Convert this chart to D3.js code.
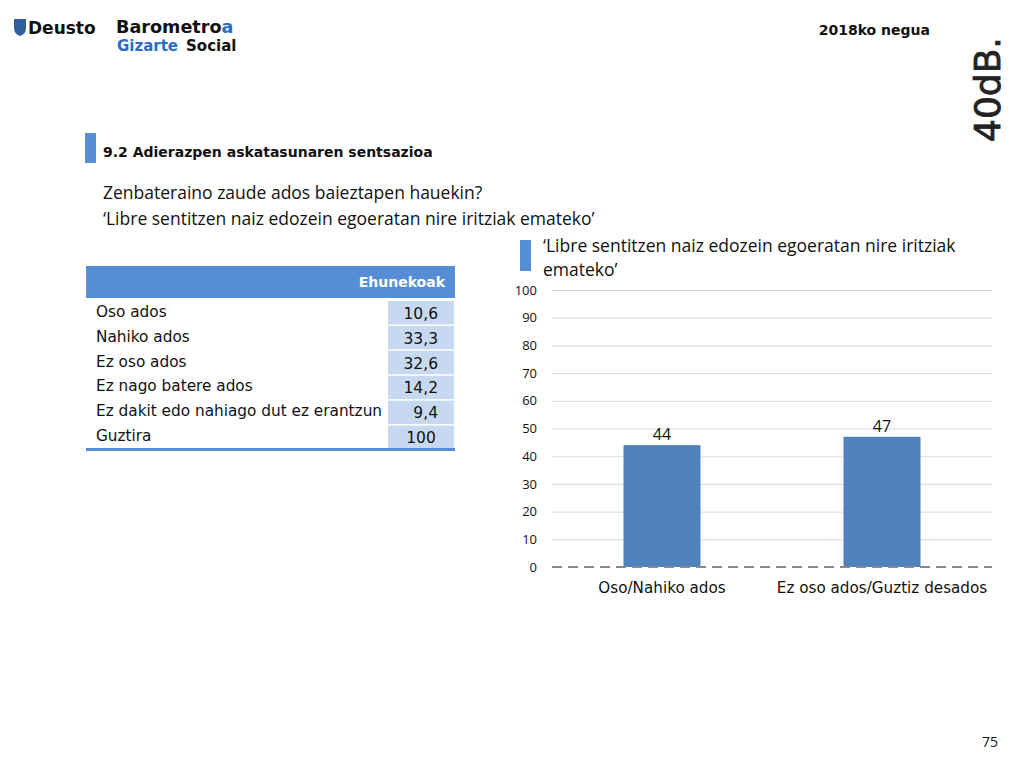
<!DOCTYPE html>
<html>
<head>
<meta charset="utf-8">
<script src="https://cdn.jsdelivr.net/npm/d3@7"></script>
<style>
  body { margin: 0; background: #fff; }
  svg { display: block; }
</style>
</head>
<body>
<svg id="page" width="1024" height="768"></svg>
<script>
// table data
var tableRows = ["Oso ados", "Nahiko ados", "Ez oso ados", "Ez nago batere ados", "Ez dakit edo nahiago dut ez erantzun", "Guztira"];
var tableValues = ["10,6", "33,3", "32,6", "14,2", "9,4", "100"];

// bar chart data
var categories = ["Oso/Nahiko ados", "Ez oso ados/Guztiz desados"];
var values = [44, 47];
var yTicks = [0, 10, 20, 30, 40, 50, 60, 70, 80, 90, 100];

var blue = "#558ed5", barBlue = "#4f81bd";
var svg = d3.select("#page");
var sans = "'DejaVu Sans', Verdana, sans-serif";
var cal = "'Open Sans', 'Liberation Sans', sans-serif";

// header logos
svg.append("path")
    .attr("d", "M14,19 h12 v9 q0,6 -6,8 q-6,-2 -6,-8 z")
    .attr("fill", "#2f5f9f");
svg.append("text").attr("x", 28).attr("y", 34)
    .style("font-family", sans).style("font-weight", "bold").style("font-size", "17px")
    .attr("fill", "#111").text("Deusto");
var baro = svg.append("text").attr("x", 116).attr("y", 33)
    .style("font-family", sans).style("font-weight", "bold").style("font-size", "17.6px")
    .attr("fill", "#111");
baro.append("tspan").text("Barometro");
baro.append("tspan").attr("fill", "#2b6cc4").text("a");
var giz = svg.append("text").attr("x", 117).attr("y", 51)
    .style("font-family", sans).style("font-weight", "bold").style("font-size", "15px");
giz.append("tspan").attr("fill", "#2b6cc4").text("Gizarte");
giz.append("tspan").attr("fill", "#111").attr("dx", 8).text("Social");

svg.append("text").attr("x", 930).attr("y", 35).attr("text-anchor", "end")
    .style("font-family", sans).style("font-weight", "bold").style("font-size", "14px")
    .attr("fill", "#111").text("2018ko negua");

svg.append("text")
    .attr("transform", "translate(1000,142) rotate(-90)")
    .style("font-family", "'DejaVu Sans', sans-serif").style("font-size", "36px")
    .attr("fill", "#222").attr("stroke", "#222").attr("stroke-width", 0.8)
    .text("40dB.");

// section title
svg.append("rect").attr("x", 85).attr("y", 133).attr("width", 11).attr("height", 30).attr("fill", blue);
svg.append("text").attr("x", 103).attr("y", 157)
    .style("font-family", sans).style("font-weight", "bold").style("font-size", "14px")
    .attr("fill", "#111").text("9.2 Adierazpen askatasunaren sentsazioa");

svg.append("text").attr("x", 103).attr("y", 199)
    .style("font-family", cal).style("font-size", "17.5px").attr("fill", "#111")
    .text("Zenbateraino zaude ados baieztapen hauekin?");
svg.append("text").attr("x", 103).attr("y", 225)
    .style("font-family", cal).style("font-size", "17.5px").attr("fill", "#111")
    .text("\u2018Libre sentitzen naiz edozein egoeratan nire iritziak emateko\u2019");

// table
var rowY = d3.scaleBand().domain(d3.range(tableRows.length)).range([301, 449]).paddingInner(0.06);
var tbl = svg.append("g");
tbl.append("rect").attr("x", 86).attr("y", 266).attr("width", 369).attr("height", 32).attr("fill", blue);
tbl.append("text").attr("x", 445).attr("y", 287).attr("text-anchor", "end")
    .style("font-family", sans).style("font-weight", "bold").style("font-size", "14px")
    .attr("fill", "#fff").text("Ehunekoak");
tbl.selectAll(".cell").data(tableValues).enter().append("rect")
    .attr("x", 388).attr("width", 66)
    .attr("y", function (d, i) { return rowY(i); })
    .attr("height", rowY.bandwidth())
    .attr("fill", "#c6d9f1");
tbl.selectAll(".lab").data(tableRows).enter().append("text")
    .attr("x", 96)
    .attr("y", function (d, i) { return rowY(i) + rowY.bandwidth() / 2 + 4; })
    .style("font-family", sans).style("font-size", "15.3px").attr("fill", "#111")
    .text(function (d) { return d; });
tbl.selectAll(".val").data(tableValues).enter().append("text")
    .attr("x", function (d, i) { return i === tableValues.length - 1 ? 421 : 438; })
    .attr("text-anchor", function (d, i) { return i === tableValues.length - 1 ? "middle" : "end"; })
    .attr("y", function (d, i) { return rowY(i) + rowY.bandwidth() / 2 + 6; })
    .style("font-family", sans).style("font-size", "15.5px").attr("fill", "#111")
    .text(function (d) { return d; });
tbl.append("line").attr("x1", 86).attr("x2", 455).attr("y1", 449.5).attr("y2", 449.5)
    .attr("stroke", blue).attr("stroke-width", 3);

// chart title
svg.append("rect").attr("x", 520).attr("y", 240).attr("width", 11).attr("height", 31).attr("fill", blue);
svg.append("text").attr("x", 543).attr("y", 252)
    .style("font-family", cal).style("font-size", "17.5px").attr("fill", "#111")
    .text("\u2018Libre sentitzen naiz edozein egoeratan nire iritziak");
svg.append("text").attr("x", 543).attr("y", 276)
    .style("font-family", cal).style("font-size", "17.5px").attr("fill", "#111")
    .text("emateko\u2019");

// bar chart
var margin = { left: 552, top: 290 }, width = 440, height = 277;
var g = svg.append("g").attr("transform", "translate(" + margin.left + "," + margin.top + ")");

var x = d3.scaleBand().domain(categories).range([0, width]).paddingInner(0.65).paddingOuter(0.325);
var y = d3.scaleLinear().domain([0, 100]).range([height, 0]);

// gridlines
g.append("g")
    .call(d3.axisLeft(y).tickValues(yTicks.slice(1)).tickSize(-width).tickFormat(""))
    .call(function (a) { a.select(".domain").remove(); })
    .selectAll("line").attr("stroke", "#d9d9d9");

// y labels
g.append("g")
    .call(d3.axisLeft(y).tickValues(yTicks).tickSize(0).tickPadding(15))
    .call(function (a) { a.select(".domain").remove(); })
    .selectAll("text")
    .style("font-family", cal).style("font-size", "13px").attr("fill", "#111");

// bars
g.selectAll(".bar").data(values).enter().append("rect")
    .attr("x", function (d, i) { return x(categories[i]); })
    .attr("width", x.bandwidth())
    .attr("y", function (d) { return y(d); })
    .attr("height", function (d) { return height - y(d); })
    .attr("fill", barBlue);

// value labels
g.selectAll(".vlab").data(values).enter().append("text")
    .attr("x", function (d, i) { return x(categories[i]) + x.bandwidth() / 2; })
    .attr("y", function (d) { return y(d) - 5; })
    .attr("text-anchor", "middle")
    .style("font-family", cal).style("font-size", "16px").attr("fill", "#111")
    .text(function (d) { return d; });

// dashed baseline
g.append("line").attr("x1", 0).attr("x2", width).attr("y1", y(0)).attr("y2", y(0))
    .attr("stroke", "#888").attr("stroke-width", 2).attr("stroke-dasharray", "10,6");

// x labels
g.append("g").attr("transform", "translate(0," + height + ")")
    .call(d3.axisBottom(x).tickSize(0).tickPadding(15))
    .call(function (a) { a.select(".domain").remove(); })
    .selectAll("text")
    .style("font-family", sans).style("font-size", "15.2px").attr("fill", "#111");

// page number
svg.append("text").attr("x", 998).attr("y", 747).attr("text-anchor", "end")
    .style("font-family", cal).style("font-size", "14px").attr("fill", "#111").text("75");
</script>
</body>
</html>
